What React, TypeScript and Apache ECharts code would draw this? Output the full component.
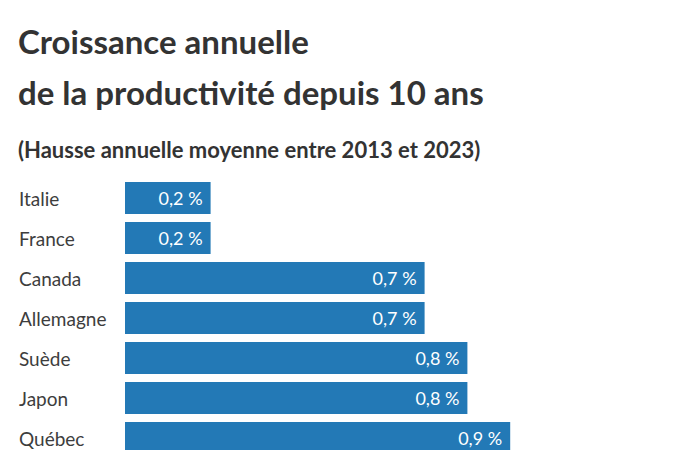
import React, { useEffect, useRef } from "react";
import * as echarts from "echarts";

const titleLines = ["Croissance annuelle", "de la productivité depuis 10 ans"];
const subtitle = "(Hausse annuelle moyenne entre 2013 et 2023)";
const categories = ["Italie", "France", "Canada", "Allemagne", "Suède", "Japon", "Québec"];
const values = [0.2, 0.2, 0.7, 0.7, 0.8, 0.8, 0.9];

const FONT = "Lato, 'Noto Sans', sans-serif";

export default function App() {
  const ref = useRef<HTMLDivElement>(null);
  useEffect(() => {
    if (!ref.current) return;
    const chart = echarts.init(ref.current, null, { renderer: "svg" });
    chart.setOption({
      animation: false,
      backgroundColor: "#ffffff",
      graphic: [
        {
          type: "text",
          left: 18,
          top: 24,
          style: { text: titleLines[0], font: `bold 33px ${FONT}`, fill: "#333333" },
        },
        {
          type: "text",
          left: 18,
          top: 75,
          style: { text: titleLines[1], font: `bold 33px ${FONT}`, fill: "#333333" },
        },
        {
          type: "text",
          left: 18,
          top: 138,
          style: { text: subtitle, font: `bold 22px ${FONT}`, fill: "#333333" },
        },
      ],
      grid: {
        left: 125,
        top: 178,
        width: 428,
        height: 280,
        containLabel: false,
        outerBoundsMode: "none",
      },
      xAxis: {
        type: "value",
        min: 0,
        max: 1,
        show: false,
      },
      yAxis: {
        type: "category",
        data: categories,
        inverse: true,
        axisLine: { show: false },
        axisTick: { show: false },
        axisLabel: {
          align: "left",
          margin: 106,
          fontSize: 19,
          fontFamily: FONT,
          color: "#3d3d3d",
          padding: [0, 0, 4, 0],
        },
      },
      series: [
        {
          type: "bar",
          data: values,
          barCategoryGap: "20%",
          itemStyle: { color: "#2379b6" },
          label: {
            show: true,
            position: "insideRight",
            distance: 8,
            color: "#ffffff",
            fontSize: 18,
            fontFamily: FONT,
            formatter: (p: any) => p.value.toFixed(1).replace(".", ",") + " %",
          },
        },
      ],
    });
    return () => chart.dispose();
  }, []);
  return <div ref={ref} style={{ width: 700, height: 450, position: "absolute", left: 0, top: 0 }} />;
}
